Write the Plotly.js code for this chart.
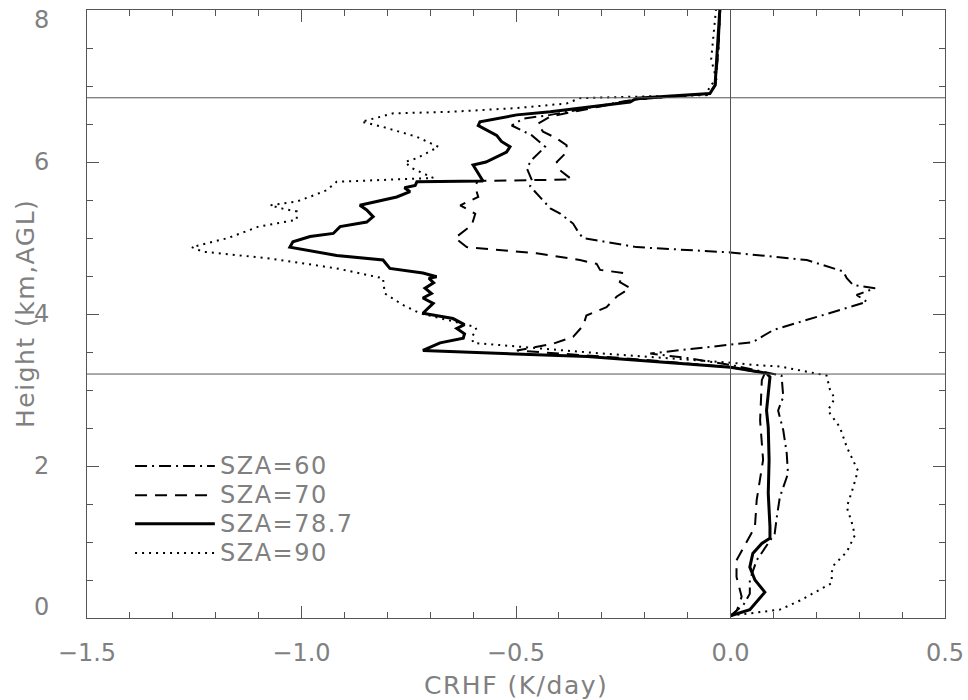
<!DOCTYPE html>
<html>
<head>
<meta charset="utf-8">
<script src="https://cdn.plot.ly/plotly-3.0.1.min.js"></script>
<style>
html,body{margin:0;padding:0;background:#fff;}
#chart{width:968px;height:700px;}
text.annotation-text{letter-spacing:1.5px;}
</style>
</head>
<body>
<div id="chart"></div>
<script>
// ---- data ----
const seriesNames = ["SZA=60", "SZA=70", "SZA=78.7", "SZA=90"];

const height60 = [0.03,0.17,0.32,0.5,0.76,0.92,1.11,1.33,1.59,1.9,2.17,2.47,2.73,2.91,3.19,3.33,3.42,3.48,3.59,3.63,3.79,3.92,4.10,4.16,4.25,4.34,4.38,4.47,4.56,4.71,4.81,4.88,5.0,5.08,5.19,5.32,5.39,5.54,5.68,5.76,5.92,6.03,6.2,6.35,6.48,6.57,6.62,6.82,6.9,7.01,7.5,8.0];
const crhf60   = [0.0,0.03,0.045,0.045,0.061,0.08,0.103,0.108,0.115,0.134,0.131,0.123,0.111,0.123,0.119,0.0,-0.1,-0.187,0.0,0.052,0.1,0.178,0.286,0.318,0.294,0.337,0.286,0.271,0.263,0.178,0.0,-0.219,-0.344,-0.355,-0.367,-0.397,-0.42,-0.444,-0.467,-0.463,-0.475,-0.463,-0.432,-0.463,-0.51,-0.483,-0.42,-0.227,-0.05,-0.036,-0.028,-0.024];

const height70 = [0.03,0.1,0.28,0.54,0.76,1.0,1.2,1.55,2.08,2.6,3.13,3.22,3.30,3.42,3.52,3.61,3.7,3.85,3.98,4.09,4.23,4.34,4.42,4.54,4.58,4.66,4.71,4.8,4.85,4.88,5.0,5.17,5.32,5.43,5.54,5.67,5.75,5.77,5.89,6.0,6.13,6.22,6.31,6.4,6.5,6.6,6.73,6.82,6.9,7.01,7.5,8.0];
const crhf70   = [0.0,0.015,0.026,0.014,0.014,0.038,0.057,0.061,0.076,0.069,0.073,0.08,0.0,-0.25,-0.498,-0.413,-0.367,-0.343,-0.336,-0.289,-0.265,-0.234,-0.258,-0.25,-0.304,-0.312,-0.351,-0.452,-0.568,-0.615,-0.642,-0.603,-0.595,-0.63,-0.588,-0.595,-0.59,-0.37,-0.397,-0.405,-0.382,-0.382,-0.405,-0.437,-0.45,-0.42,-0.304,-0.227,-0.05,-0.035,-0.028,-0.024];

const height787 = [0.03,0.11,0.34,0.5,0.67,0.85,0.98,1.05,1.2,1.64,2.08,2.51,2.73,2.95,3.17,3.22,3.30,3.44,3.52,3.62,3.68,3.74,3.81,3.86,3.94,4.01,4.14,4.21,4.27,4.34,4.41,4.47,4.49,4.54,4.6,4.71,4.77,4.88,4.95,5.02,5.06,5.15,5.21,5.28,5.37,5.43,5.48,5.54,5.61,5.66,5.69,5.74,5.75,5.96,6.0,6.13,6.2,6.27,6.35,6.48,6.53,6.62,6.66,6.79,6.84,6.9,7.01,7.5,8.0];
const crhf787   = [0.0,0.045,0.08,0.057,0.045,0.052,0.073,0.092,0.092,0.088,0.09,0.088,0.084,0.088,0.092,0.084,0.0,-0.334,-0.717,-0.677,-0.623,-0.62,-0.638,-0.62,-0.647,-0.717,-0.693,-0.717,-0.697,-0.712,-0.692,-0.703,-0.685,-0.717,-0.794,-0.81,-0.918,-1.027,-1.02,-0.98,-0.926,-0.91,-0.848,-0.833,-0.848,-0.864,-0.825,-0.778,-0.747,-0.76,-0.735,-0.731,-0.577,-0.6,-0.57,-0.522,-0.514,-0.534,-0.545,-0.588,-0.584,-0.498,-0.42,-0.234,-0.219,-0.048,-0.036,-0.03,-0.025];

const height90 = [0.03,0.06,0.11,0.23,0.35,0.46,0.6,0.69,0.87,1.09,1.25,1.46,1.72,1.94,2.25,2.51,2.73,2.89,3.0,3.19,3.31,3.33,3.36,3.48,3.62,3.7,3.79,3.83,3.88,4.01,4.12,4.27,4.47,4.6,4.73,4.82,4.88,5.0,5.15,5.24,5.35,5.38,5.43,5.48,5.56,5.63,5.74,5.79,5.92,6.0,6.05,6.2,6.33,6.46,6.53,6.64,6.66,6.71,6.77,6.84,6.86,6.88,7.01,7.07,7.35,8.0];
const crhf90   = [0.0,0.045,0.115,0.162,0.2,0.236,0.236,0.24,0.271,0.29,0.283,0.271,0.286,0.297,0.271,0.255,0.227,0.243,0.232,0.224,0.115,0.052,0.0,-0.3,-0.6,-0.603,-0.592,-0.595,-0.63,-0.724,-0.764,-0.806,-0.81,-0.918,-1.073,-1.23,-1.256,-1.171,-1.1,-1.011,-1.011,-1.04,-1.073,-1.011,-0.972,-0.941,-0.918,-0.693,-0.743,-0.759,-0.731,-0.681,-0.731,-0.809,-0.86,-0.786,-0.654,-0.498,-0.382,-0.351,-0.219,-0.055,-0.048,-0.032,-0.045,-0.034];

const cloudTop = 6.845, cloudBase = 3.21;
const xTickVals = [-1.5, -1.0, -0.5, 0.0, 0.5];
const yTickVals = [0, 2, 4, 6, 8];
const yTickText = ["0", "2", "4", "6", "8"];
const xTitle = "CRHF (K/day)";
const yTitle = "Height (km,AGL)";

// ---- styling ----
const grey = "#808080";
const axisGrey = "#555555";
const fontFam = "DejaVu Sans, Liberation Sans, sans-serif";
const styles = [
  {dash: "12px,5px,2px,5px", width: 2},
  {dash: "12px,8px", width: 2},
  {dash: "solid", width: 3},
  {dash: "2px,5px", width: 2}
];
const xs = [crhf60, crhf70, crhf787, crhf90];
const ys = [height60, height70, height787, height90];

const traces = xs.map((x, i) => ({
  type: "scatter", mode: "lines", name: seriesNames[i],
  x: x, y: ys[i], showlegend: false,
  line: {color: "#000", width: styles[i].width, dash: styles[i].dash, shape: "linear"}
}));

// legend drawn as shapes + annotations (long sample lines as in the reference)
const legX0 = 0.056, legX1 = 0.149, legTextX = 0.153;
const legRows = [0.25, 0.202, 0.155, 0.107];
const shapes = [
  {type: "line", xref: "paper", yref: "y", x0: 0, x1: 1, y0: cloudTop, y1: cloudTop, line: {color: axisGrey, width: 1}},
  {type: "line", xref: "paper", yref: "y", x0: 0, x1: 1, y0: cloudBase, y1: cloudBase, line: {color: axisGrey, width: 1}},
  {type: "line", xref: "x", yref: "paper", x0: 0, x1: 0, y0: 0, y1: 1, line: {color: axisGrey, width: 1}}
];
const annotations = [];
seriesNames.forEach((n, i) => {
  shapes.push({type: "line", xref: "paper", yref: "paper", x0: legX0, x1: legX1, y0: legRows[i], y1: legRows[i],
               line: {color: "#000", width: styles[i].width, dash: styles[i].dash}});
  annotations.push({xref: "paper", yref: "paper", x: legTextX, y: legRows[i], xanchor: "left", yanchor: "middle",
                    text: n, showarrow: false, font: {family: fontFam, size: 24, color: grey}});
});
// y tick labels (kept inside the figure at the ends, as in the reference)
const yMax = yTickVals[yTickVals.length - 1];
yTickVals.forEach((v, i) => {
  annotations.push({xref: "paper", yref: "y", x: 0, y: v, xanchor: "right", yanchor: "middle",
                    xshift: -34, yshift: v === 0 ? 11 : (v === yMax ? -10 : 0),
                    text: yTickText[i], showarrow: false, font: {family: fontFam, size: 24, color: grey}});
});
// axis titles as annotations for exact placement
annotations.push({xref: "paper", yref: "paper", x: 0.5, y: 0, yshift: -67, xanchor: "center", yanchor: "middle",
                  text: xTitle, showarrow: false, font: {family: fontFam, size: 25, color: grey}});
annotations.push({xref: "paper", yref: "paper", x: 0, y: 0.5, xshift: -62, xanchor: "center", yanchor: "middle",
                  textangle: -90, text: yTitle, showarrow: false, font: {family: fontFam, size: 25, color: grey}});

const layout = {
  width: 968, height: 700,
  margin: {l: 87, r: 23, t: 10, b: 82},
  paper_bgcolor: "#fff", plot_bgcolor: "#fff",
  font: {family: fontFam, size: 24, color: grey},
  showlegend: false,
  xaxis: {
    range: [-1.5, 0.5], tickvals: xTickVals, tickformat: ".1f",
    ticks: "inside", ticklen: 12, tickwidth: 1, tickcolor: axisGrey,
    showline: true, linecolor: axisGrey, linewidth: 1, mirror: "ticks",
    showgrid: false, zeroline: false, ticklabeloverflow: "allow",
    minor: {dtick: 0.1, ticks: "inside", ticklen: 6, tickcolor: axisGrey, showgrid: false},
    ticklabelstandoff: 13
  },
  yaxis: {
    range: [0, 8], tickvals: yTickVals, showticklabels: false,
    ticks: "inside", ticklen: 12, tickwidth: 1, tickcolor: axisGrey,
    showline: true, linecolor: axisGrey, linewidth: 1, mirror: "ticks",
    showgrid: false, zeroline: false,
    minor: {dtick: 0.5, ticks: "inside", ticklen: 6, tickcolor: axisGrey, showgrid: false}
  },
  shapes: shapes,
  annotations: annotations
};

Plotly.newPlot("chart", traces, layout, {displayModeBar: false, staticPlot: true});
</script>
</body>
</html>
